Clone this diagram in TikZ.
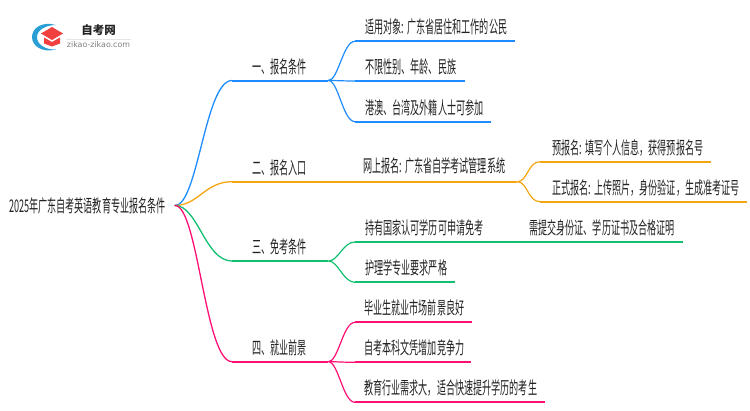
\documentclass[tikz,border=0pt]{standalone}
\usepackage{fontspec}
\setmainfont{Noto Sans CJK SC}
\newfontfamily\cjknarrow[FakeStretch=0.52]{Noto Sans CJK SC}
\newfontfamily\latinlogo{DejaVu Sans}
\definecolor{cblue}{HTML}{1E8CFF}
\definecolor{corange}{HTML}{F5A50F}
\definecolor{cgreen}{HTML}{10C070}
\definecolor{cpink}{HTML}{FF1075}
\definecolor{ink}{HTML}{222222}
\definecolor{logoblue}{HTML}{2A9FD6}
\definecolor{logored}{HTML}{F04040}
\tikzset{
  x=1pt,y=-1pt,
  txt/.style={inner sep=0pt,font=\cjknarrow\fontsize{17.5}{18}\selectfont,text=ink},
  root/.style={txt,anchor=east},
  lab/.style={txt,anchor=south west,align=left},
  branch/.style={line width=1.3pt,line cap=round},
  rule/.style={line width=2pt},
  twig/.style={line width=1.2pt},
}
\newcommand{\leaf}[6]{\node[lab,text width=#4pt,minimum height=18pt,anchor=south west] (#1) at (#2,#3) {\raisebox{7.2pt}{\hspace*{#5pt}#6}};}
\begin{document}
\begin{tikzpicture}
\useasboundingbox (0,0) rectangle (750,410);
% logo
\fill[logoblue] (56,25) .. controls (42,21) and (32,28) .. (32,37) .. controls (32,46) and (42,53) .. (56,49.5)
  .. controls (46,50) and (37,45) .. (37,37) .. controls (37,30) and (46,25) .. (56,25) -- cycle;
\fill[logored] (52,27) -- (63,33.5) -- (52,40) -- (41,33.5) -- cycle;
\fill[logored] (44,37.5) -- (52,42) -- (60,37.5) -- (60,43.5) -- (52,46.5) -- (44,43.5) -- cycle;
\node[inner sep=0pt,font=\bfseries\fontsize{11.5}{12}\selectfont,text=ink] (logotitle) at (98.5,30.5) {自考网};
\node[inner sep=0pt,font=\latinlogo\fontsize{7.9}{8}\selectfont,text=gray] (logourl) at (98.5,45) {zikao-zikao.com};
\draw[black!10,line width=.6pt] (66,39) -- (131,39);
% root
\node[root] (rootn) at (175,205.5) {\mbox{2025年广东自考英语教育专业报名条件\kern9pt}};
% level 1
\leaf{m1}{232}{80.5}{96}{20}{一、报名条件}
\leaf{m2}{232}{181.7}{285}{20}{二、报名入口}
\leaf{m3}{232}{261}{96}{20}{三、免考条件}
\leaf{m4}{232}{361.7}{96}{20}{四、就业前景}
% level 2
\leaf{a1}{355}{41.3}{160}{10}{适用对象:\kern3pt 广东省居住和工作的公民}
\leaf{a2}{355}{81}{110}{10}{不限性别、年龄、民族}
\leaf{a3}{355}{121.7}{136}{10}{港澳、台湾及外籍人士可参加}
\leaf{b1}{540}{161.7}{171}{12}{预报名:\kern3pt 填写个人信息，获得预报名号}
\leaf{b2}{540}{201.7}{207}{12}{正式报名:\kern3pt 上传照片，身份验证，生成准考证号}
\leaf{c1}{355}{242}{160}{10}{持有国家认可学历可申请免考}
\leaf{c2}{529}{242}{154}{0}{需提交身份证、学历证书及合格证明}
\leaf{c3}{355}{282.3}{100}{10}{护理学专业要求严格}
\leaf{d1}{355}{322.3}{117}{9}{毕业生就业市场前景良好}
\leaf{d2}{355}{362.3}{116}{9}{自考本科文凭增加竞争力}
\leaf{d3}{355}{402.3}{190}{9}{教育行业需求大，适合快速提升学历的考生}
\node[lab] (m2t) at (363,174.7) {网上报名:\kern3pt 广东省自学考试管理系统};
% root branches
\draw[branch,cblue] (rootn.east) .. controls (198,205.5) and (205,80.5) .. (m1.south west);
\draw[branch,corange] (rootn.east) .. controls (198,205.5) and (205,181.7) .. (m2.south west);
\draw[branch,cgreen] (rootn.east) .. controls (198,205.5) and (205,261) .. (m3.south west);
\draw[branch,cpink] (rootn.east) .. controls (198,205.5) and (205,361.7) .. (m4.south west);
% main rules
\draw[rule,cblue] (m1.south west) -- (m1.south east);
\draw[rule,corange] (m2.south west) -- (m2.south east);
\draw[rule,cgreen] (m3.south west) -- (m3.south east);
\draw[rule,cpink] (m4.south west) -- (m4.south east);
% sub branches
\foreach \m/\l/\e/\c in {m1/a1/a1/cblue,m1/a2/a2/cblue,m1/a3/a3/cblue,m3/c1/c2/cgreen,m3/c3/c3/cgreen,m4/d1/d1/cpink,m4/d2/d2/cpink,m4/d3/d3/cpink,m2/b1/b1/corange,m2/b2/b2/corange}{
  \draw[twig,\c] (\m.south east) .. controls ([xshift=10pt]\m.south east) and ([xshift=-12pt]\l.south west) .. (\l.south west);
  \draw[rule,\c] (\l.south west) -- (\e.south east);
}
\end{tikzpicture}
\end{document}
